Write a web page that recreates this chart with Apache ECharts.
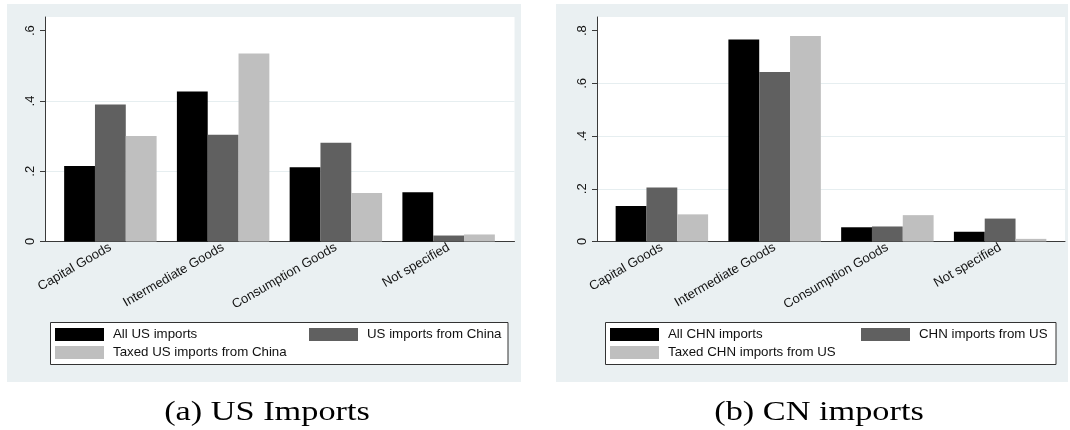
<!DOCTYPE html>
<html>
<head>
<meta charset="utf-8">
<script src="https://cdn.jsdelivr.net/npm/echarts@6/dist/echarts.min.js"></script>
<style>
  html, body { margin: 0; padding: 0; background: #ffffff; }
  #chart { width: 1070px; height: 430px; }
</style>
</head>
<body>
<div id="chart"></div>
<script>
// Product categories (BEC classification)
const categories = ['Capital Goods', 'Intermediate Goods', 'Consumption Goods', 'Not specified'];

// (a) US imports: shares by category
const usAll = [0.215, 0.427, 0.211, 0.140];
const usFromChina = [0.390, 0.304, 0.281, 0.017];
const usTaxed = [0.300, 0.535, 0.138, 0.020];

// (b) Chinese imports: shares by category
const cnAll = [0.135, 0.767, 0.054, 0.037];
const cnFromUs = [0.205, 0.643, 0.057, 0.087];
const cnTaxed = [0.103, 0.780, 0.100, 0.010];

// y-axis tick values
const usTicks = [0, 0.2, 0.4, 0.6];
const cnTicks = [0, 0.2, 0.4, 0.6, 0.8];

const seriesNames = {
  us: ['All US imports', 'US imports from China', 'Taxed US imports from China'],
  cn: ['All CHN imports', 'CHN imports from US', 'Taxed CHN imports from US']
};

const COLORS = ['#000000', '#606060', '#bfbfbf'];
const PANEL_BG = '#eaf0f2';
const GRID_LINE = '#e6eef0';
const AXIS_COLOR = '#3a3a3a';
const TEXT_COLOR = '#111111';
const SANS = '"Liberation Sans", Arial, sans-serif';

// ".2" style labels, as in Stata
const tickFmt = v => (Math.abs(v) < 1e-9 ? '0' : String(+v.toFixed(2)).replace(/^0\./, '.'));

function panel(p) {
  // p.wide: full plot region (axis lines, grid lines, y labels)
  // p.bars: inner band holding the bar groups
  const grids = [
    { left: p.wide.left, top: 17, width: p.wide.width, height: 224.5,
      show: true, backgroundColor: '#ffffff', borderWidth: 0, containLabel: false },
    { left: p.bars.left, top: 17, width: p.bars.width, height: 224.5, containLabel: false }
  ];
  const xAxes = [
    { type: 'value', gridIndex: p.gi, min: 0, max: 1,
      axisLine: { show: true, onZero: false, lineStyle: { color: AXIS_COLOR, width: 1 } },
      axisTick: { show: false }, axisLabel: { show: false }, splitLine: { show: false } },
    { type: 'category', gridIndex: p.gi + 1, data: categories,
      axisLine: { show: false }, axisTick: { show: false },
      axisLabel: { rotate: 30, margin: 5, fontSize: 13, fontFamily: SANS, color: TEXT_COLOR, interval: 0 } }
  ];
  const yAxes = [
    { type: 'value', gridIndex: p.gi, min: 0, max: p.max,
      axisLine: { show: true, lineStyle: { color: AXIS_COLOR, width: 1 } },
      axisTick: { show: true, length: 5, lineStyle: { color: AXIS_COLOR }, customValues: p.ticks },
      axisLabel: { rotate: 90, margin: 8, fontSize: 13, fontFamily: SANS, color: TEXT_COLOR,
                   customValues: p.ticks, formatter: tickFmt },
      splitLine: { show: true, showMinLine: false, showMaxLine: false, lineStyle: { color: GRID_LINE, width: 1 } } },
    { type: 'value', gridIndex: p.gi + 1, min: 0, max: p.max, show: false,
      splitLine: { show: false } }
  ];
  const series = p.values.map((vals, i) => ({
    type: 'bar', name: p.names[i], data: vals,
    xAxisIndex: p.gi + 1, yAxisIndex: p.gi + 1,
    barGap: '0%', barCategoryGap: '18%',
    itemStyle: { color: COLORS[i] },
    emphasis: { disabled: true }
  }));
  const legendPos = [
    { left: p.leg[0], top: 328 }, { left: p.leg[1], top: 328 }, { left: p.leg[0], top: 346 }
  ];
  const legends = p.names.map((n, i) => ({
    left: legendPos[i].left, top: legendPos[i].top, padding: 0,
    itemWidth: 49, itemHeight: 13, icon: 'rect', selectedMode: false,
    data: [n],
    textStyle: { fontSize: 13.3, fontFamily: SANS, color: TEXT_COLOR, padding: [0, 0, 0, 4], lineHeight: 13 }
  }));
  return { grids, xAxes, yAxes, series, legends };
}

const left = panel({
  gi: 0, wide: { left: 45, width: 469.5 }, bars: { left: 54, width: 451 },
  max: 0.639, ticks: usTicks, values: [usAll, usFromChina, usTaxed], names: seriesNames.us, leg: [55, 309]
});
const right = panel({
  gi: 2, wide: { left: 597, width: 468 }, bars: { left: 605.5, width: 451 },
  max: 0.852, ticks: cnTicks, values: [cnAll, cnFromUs, cnTaxed], names: seriesNames.cn, leg: [610, 861]
});

const chart = echarts.init(document.getElementById('chart'), null, { renderer: 'canvas' });
chart.setOption({
  backgroundColor: '#ffffff',
  animation: false,
  grid: [...left.grids, ...right.grids],
  xAxis: [...left.xAxes, ...right.xAxes],
  yAxis: [...left.yAxes, ...right.yAxes],
  series: [...left.series, ...right.series],
  legend: [...left.legends, ...right.legends],
  graphic: [
    // panel backgrounds
    { type: 'rect', z: -10, shape: { x: 7, y: 4, width: 514, height: 378 }, style: { fill: PANEL_BG } },
    { type: 'rect', z: -10, shape: { x: 556, y: 4, width: 512, height: 378 }, style: { fill: PANEL_BG } },
    // legend frames
    { type: 'rect', z: 1, shape: { x: 50.5, y: 322.5, width: 457.5, height: 42 },
      style: { fill: '#ffffff', stroke: '#333333', lineWidth: 1 } },
    { type: 'rect', z: 1, shape: { x: 605.5, y: 322.5, width: 450.5, height: 42 },
      style: { fill: '#ffffff', stroke: '#333333', lineWidth: 1 } },
    // sub-figure captions
    { type: 'text', x: 267, y: 413, scaleX: 1.27, z: 5,
      style: { text: '(a) US Imports', font: '27px "Liberation Serif", "Times New Roman", serif',
               textAlign: 'center', textVerticalAlign: 'middle', fill: '#000000' } },
    { type: 'text', x: 819, y: 413, scaleX: 1.27, z: 5,
      style: { text: '(b) CN imports', font: '27px "Liberation Serif", "Times New Roman", serif',
               textAlign: 'center', textVerticalAlign: 'middle', fill: '#000000' } }
  ]
});
</script>
</body>
</html>
